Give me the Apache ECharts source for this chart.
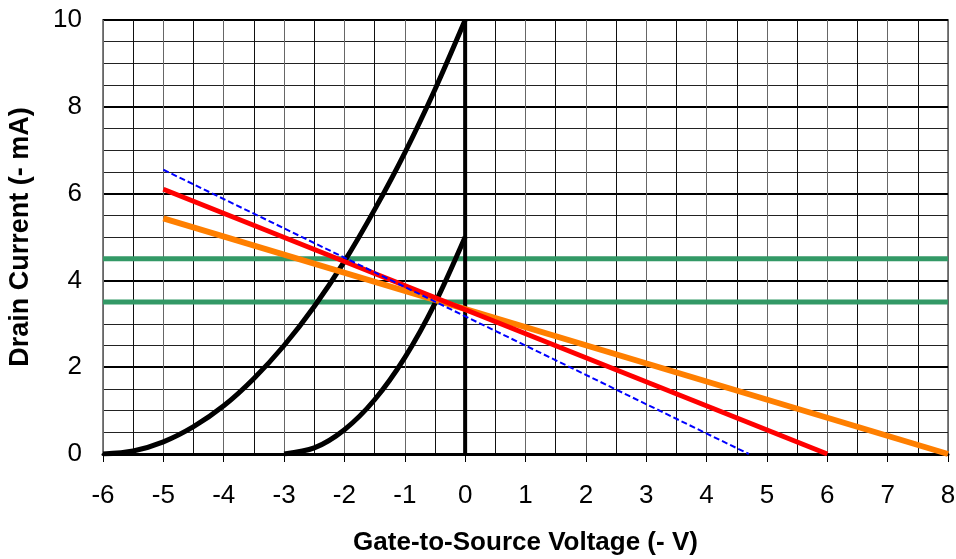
<!DOCTYPE html>
<html><head><meta charset="utf-8">
<script src="https://cdn.jsdelivr.net/npm/echarts@6/dist/echarts.min.js"></script>
<style>html,body{margin:0;padding:0;background:#fff}#c{width:956px;height:559px}</style>
</head><body><div id="c"></div>
<script>
// Transfer curves
const outerCurve = [[-6,0],[-5.5,0.07],[-5,0.28],[-4.5,0.63],[-4,1.11],[-3.5,1.74],[-3,2.5],[-2.5,3.4],[-2,4.44],[-1.5,5.63],[-1,6.94],[-0.5,8.4],[0,10]];
const innerCurve = [[-3,0],[-2.5,0.14],[-2,0.56],[-1.5,1.25],[-1,2.22],[-0.5,3.47],[0,5]];
const zeroLine = [[0,0],[0,10]];
// Load lines
const redLine = [[-5,6.1],[6,0]];
const orangeLine = [[-5,5.43],[8,0]];
const blueLine = [[-5,6.55],[4.7,0]];
// Horizontal limits
const greenHigh = [[-6,4.5],[8,4.5]];
const greenLow = [[-6,3.5],[8,3.5]];
const xTicks = [-6,-5,-4,-3,-2,-1,0,1,2,3,4,5,6,7,8];
const yTicks = [0,2,4,6,8,10];

const font = '"Liberation Sans", Arial, sans-serif';
const chart = echarts.init(document.getElementById('c'));
function ln(data, color, width, type, z, smooth){
  return {type:'line', data, symbol:'none', smooth: smooth||false, z: z||2,
    lineStyle:{color, width, type: type||'solid'}, animation:false};
}
chart.setOption({
  animation:false,
  grid:{left:103,right:8,top:20,bottom:105, containLabel:false, outerBoundsMode:'none',
    show:true, borderColor:'#808080', borderWidth:2},
  xAxis:{type:'value', min:xTicks[0], max:xTicks[xTicks.length-1], interval:1,
    name:'Gate-to-Source Voltage (- V)', nameLocation:'middle', nameGap:76,
    nameTextStyle:{fontFamily:font, fontSize:26, fontWeight:'bold', color:'#000'},
    axisLine:{show:true, onZero:false, lineStyle:{color:'#000', width:3}},
    axisTick:{show:true, length:8, lineStyle:{color:'#000', width:1}},
    axisLabel:{fontFamily:font, fontSize:26, color:'#000', margin:29},
    splitLine:{show:true, lineStyle:{color:'#666', width:1}},
    minorTick:{show:false, splitNumber:2},
    minorSplitLine:{show:true, lineStyle:{color:'#111', width:1}}
  },
  yAxis:{type:'value', min:yTicks[0], max:yTicks[yTicks.length-1], interval:2,
    name:'Drain Current (- mA)', nameLocation:'middle', nameGap:69,
    nameTextStyle:{fontFamily:font, fontSize:27, fontWeight:'bold', color:'#000'},
    axisLine:{show:true, lineStyle:{color:'#000', width:1}},
    axisTick:{show:false},
    axisLabel:{fontFamily:font, fontSize:26, color:'#000', margin:21},
    splitLine:{show:true, lineStyle:{color:'#000', width:2}},
    minorTick:{show:false, splitNumber:4},
    minorSplitLine:{show:true, lineStyle:{color:'#222', width:1}}
  },
  series:[
    ln(greenHigh,'#339966',5),
    ln(greenLow,'#339966',5),
    ln(outerCurve,'#000',5,'solid',3,0.3),
    ln(innerCurve,'#000',5,'solid',3,0.3),
    ln(zeroLine,'#000',4,'solid',3),
    ln(orangeLine,'#ff7f00',6,'solid',4),
    ln(redLine,'#ff0000',5,'solid',5),
    ln(blueLine,'#0000ff',2,[6,3],6)
  ]
});
</script></body></html>
